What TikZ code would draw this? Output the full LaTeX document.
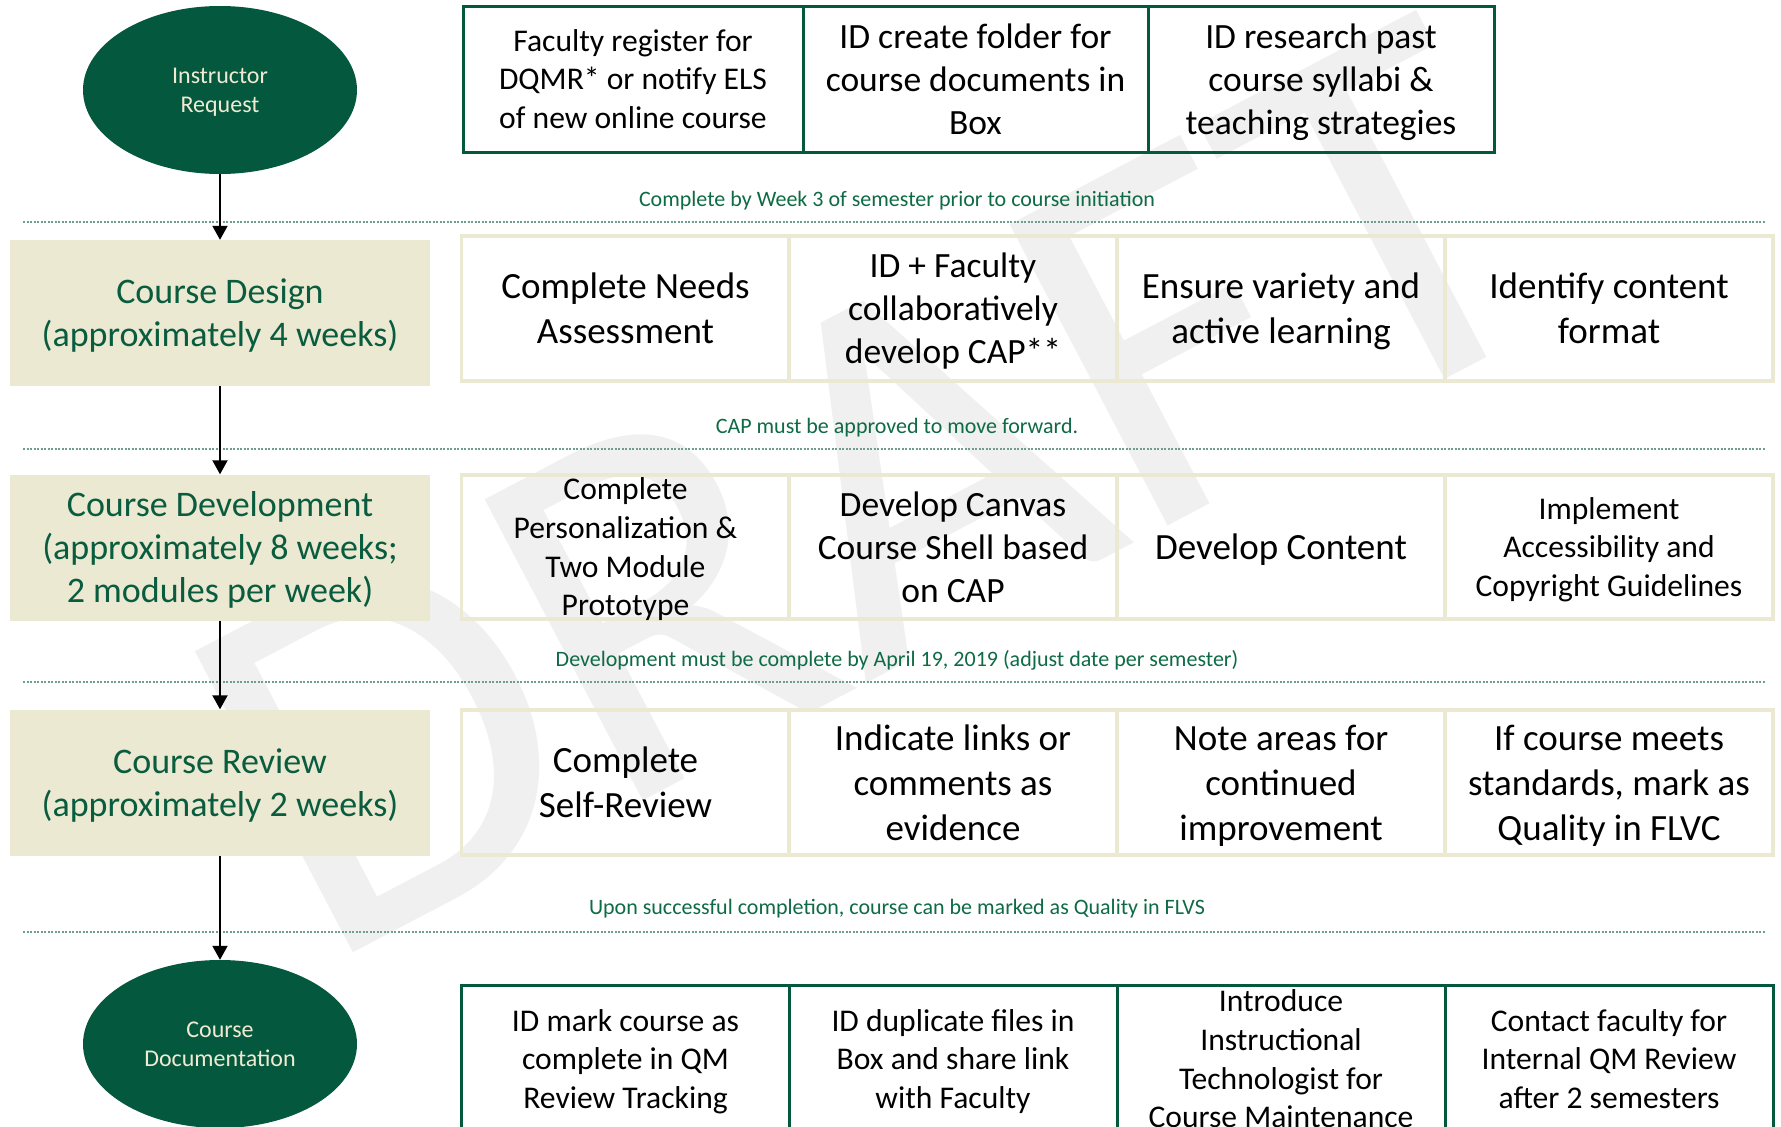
\documentclass[tikz,border=0pt]{standalone}
\usepackage{fontspec}
\setmainfont{Carlito}
\usetikzlibrary{shapes.geometric,arrows.meta}
\definecolor{dkgreen}{HTML}{04583E}
\definecolor{txtgreen}{HTML}{0A5C3F}
\definecolor{lblgreen}{HTML}{0E6B45}
\definecolor{beige}{HTML}{ECE9D2}
\definecolor{cream}{HTML}{EFEBD2}
\definecolor{sepcol}{HTML}{6F9F8A}
\definecolor{wmark}{HTML}{F0F0F0}
\newcommand\wtop{\rule{0pt}{0.952em}}
\newcommand\wbot{\rule[-0.269em]{0pt}{0.269em}}
\begin{document}
\begin{tikzpicture}[x=1pt,y=-1pt,
  wordbox/.style={execute at end node=\wbot},
  phase/.style={ellipse, fill=dkgreen, draw=none, minimum width=274pt, minimum height=168pt, inner sep=0pt, text=cream, align=center, font=\fontsize{24}{29}\selectfont, wordbox},
  stage/.style={rectangle, fill=beige, draw=none, minimum width=420pt, minimum height=146pt, inner sep=0pt, text=txtgreen, align=center, font=\fontsize{36}{43}\selectfont, wordbox},
  gbox/.style={rectangle, draw=dkgreen, line width=3pt, inner sep=0pt, minimum height=146pt},
  bbox/.style={rectangle, draw=beige, line width=3.5pt, inner sep=0pt, minimum width=328pt, minimum height=145pt},
  ctext/.style={inner sep=0pt, align=center, text=black, wordbox},
  fbig/.style={font=\fontsize{37}{45}\selectfont},
  fmid/.style={font=\fontsize{35.5}{43}\selectfont},
  fsmall/.style={font=\fontsize{31.6}{38.6}\selectfont},
  lbl/.style={inner sep=0pt, text=lblgreen, font=\fontsize{22}{26}\selectfont, wordbox},
  sepline/.style={draw=sepcol, line width=1.5pt, dash pattern=on 2pt off 1.5pt},
  arr/.style={draw=black, line width=2pt, -{Triangle[width=15pt,length=14pt]}},
]
\useasboundingbox (0,0) rectangle (1781,1127);
\clip (0,0) rectangle (1781,1127);
\fill[white] (0,0) rectangle (1781,1127);

% watermark
\node[anchor=base west, rotate=27.7, inner sep=0pt, text=wmark, font=\fontsize{530}{530}\selectfont] (wm) at (321,970) {DRAFT};

% phases
\node[phase] (e1) at (220,90) {\wtop Instructor\\Request};
\node[phase] (e2) at (220,1044) {\wtop Course\\Documentation};

% stages
\node[stage] (s1) at (220,313) {\wtop Course Design\\(approximately 4 weeks)};
\node[stage] (s2) at (220,547.5) {\wtop Course Development\\(approximately 8 weeks;\\2 modules per week)};
\node[stage] (s3) at (220,782.5) {\wtop Course Review\\(approximately 2 weeks)};

% top row
\node[gbox, minimum width=340pt] (t1) at (633,79) {};
\node[gbox, minimum width=345pt] (t2) at (975.5,79) {};
\node[gbox, minimum width=346pt] (t3) at (1321,79) {};
\node[ctext, fsmall] (t1t) at (t1) {\wtop Faculty register for\\DQMR* or notify ELS\\of new online course};
\node[ctext, fmid] (t2t) at (t2) {\wtop ID create folder for\\course documents in\\Box};
\node[ctext, fmid] (t3t) at (t3) {\wtop ID research past\\course syllabi \&\\teaching strategies};

% row 1
\node[bbox] (a1) at (625.5,308.5) {};
\node[bbox] (a2) at (953,308.5) {};
\node[bbox] (a3) at (1281,308.5) {};
\node[bbox] (a4) at (1609,308.5) {};
\node[ctext, fbig] (a1t) at (a1) {\wtop Complete Needs\\Assessment};
\node[ctext, fmid] (a2t) at (a2) {\wtop ID + Faculty\\collaboratively\\develop CAP**};
\node[ctext, fbig] (a3t) at (a3) {\wtop Ensure variety and\\active learning};
\node[ctext, fbig] (a4t) at (a4) {\wtop Identify content\\format};

% row 2
\node[bbox, minimum height=144pt] (b1) at (625.5,547) {};
\node[bbox, minimum height=144pt] (b2) at (953,547) {};
\node[bbox, minimum height=144pt] (b3) at (1281,547) {};
\node[bbox, minimum height=144pt] (b4) at (1609,547) {};
\node[ctext, fsmall] (b1t) at (b1) {\wtop Complete\\Personalization \&\\Two Module\\Prototype};
\node[ctext, fmid] (b2t) at (b2) {\wtop Develop Canvas\\Course Shell based\\on CAP};
\node[ctext, fbig] (b3t) at (b3) {\wtop Develop Content};
\node[ctext, fsmall] (b4t) at (b4) {\wtop Implement\\Accessibility and\\Copyright Guidelines};

% row 3
\node[bbox] (c1) at (625.5,782.5) {};
\node[bbox] (c2) at (953,782.5) {};
\node[bbox] (c3) at (1281,782.5) {};
\node[bbox] (c4) at (1609,782.5) {};
\node[ctext, fbig] (c1t) at (c1) {\wtop Complete\\Self-Review};
\node[ctext, fbig] (c2t) at (c2) {\wtop Indicate links or\\comments as\\evidence};
\node[ctext, fbig] (c3t) at (c3) {\wtop Note areas for\\continued\\improvement};
\node[ctext, fbig] (c4t) at (c4) {\wtop If course meets\\standards, mark as\\Quality in FLVC};

% row 4
\node[gbox, minimum width=328pt, minimum height=148pt] (d1) at (625.5,1059) {};
\node[gbox, minimum width=328pt, minimum height=148pt] (d2) at (953,1059) {};
\node[gbox, minimum width=328pt, minimum height=148pt] (d3) at (1281,1059) {};
\node[gbox, minimum width=328pt, minimum height=148pt] (d4) at (1609,1059) {};
\node[ctext, fsmall] (d1t) at (d1) {\wtop ID mark course as\\complete in QM\\Review Tracking};
\node[ctext, fsmall] (d2t) at (d2) {\wtop ID duplicate files in\\Box and share link\\with Faculty};
\node[ctext, fsmall] (d3t) at (d3) {\wtop Introduce\\Instructional\\Technologist for\\Course Maintenance};
\node[ctext, fsmall] (d4t) at (d4) {\wtop Contact faculty for\\Internal QM Review\\after 2 semesters};

% separators and labels
\coordinate (p1a) at (23,222);  \coordinate (p1b) at (1765,222);
\coordinate (p2a) at (23,449);  \coordinate (p2b) at (1765,449);
\coordinate (p3a) at (23,682);  \coordinate (p3b) at (1765,682);
\coordinate (p4a) at (23,932);  \coordinate (p4b) at (1765,932);
\draw[sepline] (p1a) -- (p1b);
\draw[sepline] (p2a) -- (p2b);
\draw[sepline] (p3a) -- (p3b);
\draw[sepline] (p4a) -- (p4b);
\node[lbl] (l1) at (897,199) {\wtop Complete by Week 3 of semester prior to course initiation};
\node[lbl] (l2) at (897,426) {\wtop CAP must be approved to move forward.};
\node[lbl] (l3) at (897,659) {\wtop Development must be complete by April 19, 2019 (adjust date per semester)};
\node[lbl] (l4) at (897,907) {\wtop Upon successful completion, course can be marked as Quality in FLVS};

% arrows
\draw[arr] (e1.south) -- (s1.north);
\draw[arr] (s1.south) -- (s2.north);
\draw[arr] (s2.south) -- (s3.north);
\draw[arr] (s3.south) -- (e2.north);
\end{tikzpicture}
\end{document}
